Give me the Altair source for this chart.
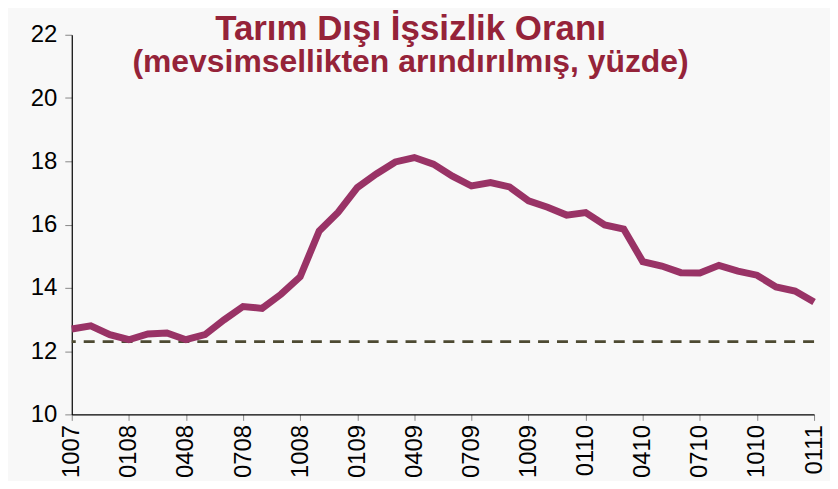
import altair as alt
import pandas as pd

tick_labels = ["1007", "0108", "0408", "0708", "1008", "0109", "0409",
               "0709", "1009", "0110", "0410", "0710", "1010", "0111"]

rate = [12.70, 12.80, 12.52, 12.36, 12.54, 12.57, 12.36, 12.52, 12.99, 13.41,
        13.35, 13.80, 14.35, 15.80, 16.39, 17.17, 17.60, 17.98, 18.12, 17.91,
        17.53, 17.22, 17.33, 17.19, 16.75, 16.55, 16.30, 16.38, 15.99, 15.86,
        14.83, 14.69, 14.48, 14.47, 14.71, 14.53, 14.40, 14.03, 13.90, 13.55]

reference_level = 12.3

title_text = "Tarım Dışı İşsizlik Oranı"
subtitle_text = "(mevsimsellikten arındırılmış, yüzde)"

df = pd.DataFrame({"i": list(range(len(rate))), "rate": rate})
one = pd.DataFrame({"k": [0]})

label_js = "[" + ",".join('"%s"' % t for t in tick_labels) + "]"
tick_vals = list(range(0, len(rate), 3))

x_enc = alt.X("i:Q",
              scale=alt.Scale(domain=[0, len(rate) - 1], nice=False, zero=False),
              axis=alt.Axis(values=tick_vals,
                            labelExpr=label_js + "[round(datum.value/3)]",
                            labelAngle=-90, labelAlign="right", labelBaseline="middle",
                            labelFontSize=24, labelColor="#000000", labelFont="Liberation Sans",
                            labelPadding=4, tickSize=6, tickColor="#888888",
                            domainColor="#000000", domainWidth=1.2,
                            grid=False, title=None, labelFlush=False, labelOverlap=False))

y_enc = alt.Y("rate:Q",
              scale=alt.Scale(domain=[10, 22], nice=False, zero=False),
              axis=alt.Axis(values=[10, 12, 14, 16, 18, 20, 22],
                            labelFontSize=24, labelColor="#000000", labelFont="Liberation Sans",
                            labelPadding=8, tickSize=7, tickColor="#888888",
                            domainColor="#000000", domainWidth=1.2,
                            grid=False, title=None))

line = alt.Chart(df).mark_line(color="#993366", strokeWidth=7,
                               strokeJoin="miter", strokeCap="butt").encode(x=x_enc, y=y_enc)

ref = alt.Chart(one).mark_rule(color="#4d4a32", strokeWidth=3,
                               strokeDash=[11, 8]).encode(y=alt.datum(reference_level))

title = alt.Chart(one).mark_text(text=title_text, font="Liberation Sans", fontWeight="bold",
                                 fontSize=35, color="#952339", align="center",
                                 baseline="alphabetic").encode(x=alt.value(340), y=alt.value(5))

subtitle = alt.Chart(one).mark_text(text=subtitle_text, font="Liberation Sans", fontWeight="bold",
                                    fontSize=32, color="#952339", align="center",
                                    baseline="alphabetic").encode(x=alt.value(340), y=alt.value(37))

chart = alt.layer(ref, line, title, subtitle).properties(
    width=745, height=381,
    autosize=alt.AutoSizeParams(type="none"),
    padding={"left": 64, "top": 26, "right": 16, "bottom": 66},
    background="#f8f8f8",
).configure_view(stroke=None)

chart.save("out.html", embed_options={"renderer": "svg", "actions": False})
